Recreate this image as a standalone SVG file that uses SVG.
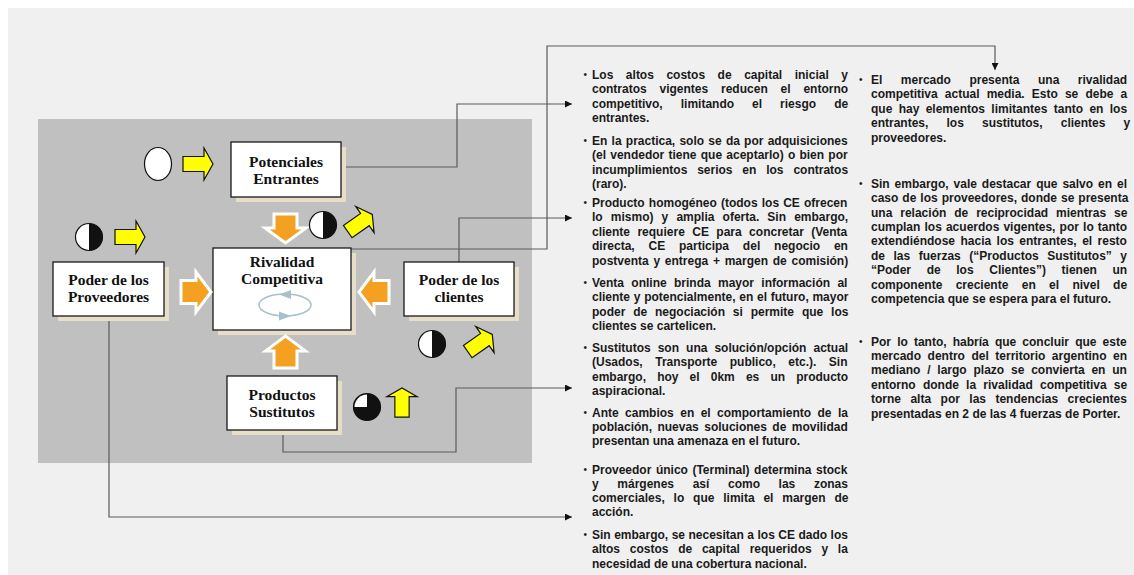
<svg xmlns="http://www.w3.org/2000/svg" width="1134" height="575" viewBox="0 0 1134 575">
<style>
.bx{fill:#fff;stroke:#1a1a1a;stroke-width:1.3}
.sh{fill:#e6dec6}
.bt{font-family:"Liberation Serif","Times New Roman",serif;font-weight:bold;font-size:15.5px;fill:#111;text-anchor:middle}
.tx{font-family:"Liberation Sans",Arial,sans-serif;font-weight:bold;font-size:12px;fill:#1a1a1a}
.bu{font-family:"Liberation Sans",Arial,sans-serif;font-size:10px;fill:#1a1a1a}
.or{fill:#f4a020;stroke:#fff;stroke-width:3;stroke-linejoin:miter}
.ye{fill:#ffff00;stroke:#111;stroke-width:1.2;stroke-linejoin:miter}
.cw{fill:#fff;stroke:#111;stroke-width:1.2}
.cb{fill:#111}
.cn{fill:none;stroke:#5a5a5a;stroke-width:1.2}
</style>
<defs>
<marker id="arr" viewBox="0 0 10 10" refX="10" refY="5" markerWidth="8" markerHeight="7" markerUnits="userSpaceOnUse" orient="auto"><path d="M0,0 L10,5 L0,10 z" fill="#111"/></marker>
<polygon id="yarrow" points="-15,-7.5 6,-7.5 6,-16 15,0 6,16 6,7.5 -15,7.5"/>
</defs>
<rect x="0" y="0" width="1134" height="575" fill="#fff"/>
<rect x="8" y="8" width="1126" height="567" fill="#f0f0f0"/>
<rect x="38" y="119" width="494" height="344" fill="#c0c0c0"/>

<g id="connectors">
<path class="cn" d="M341,167 H457 V104 H572" marker-end="url(#arr)"/>
<path class="cn" d="M351,249 H547 V46 H995 V70" marker-end="url(#arr)"/>
<path class="cn" d="M459,262 V218 H572" marker-end="url(#arr)"/>
<path class="cn" d="M283,430 V452 H456 V388 H572" marker-end="url(#arr)"/>
<path class="cn" d="M109,316 V517 H572" marker-end="url(#arr)"/>
</g>

<g id="node-entrantes">
<rect class="sh" x="236" y="147" width="110" height="55"/>
<rect class="bx" x="231" y="142" width="110" height="55"/>
<text class="bt" x="286" y="167">Potenciales</text>
<text class="bt" x="286" y="184">Entrantes</text>
</g>
<g id="node-proveedores">
<rect class="sh" x="58" y="267" width="111" height="54"/>
<rect class="bx" x="53" y="262" width="111" height="54"/>
<text class="bt" x="108.5" y="285">Poder de los</text>
<text class="bt" x="108.5" y="302">Proveedores</text>
</g>
<g id="node-rivalidad">
<rect class="sh" x="218" y="253" width="138" height="82"/>
<rect class="bx" x="213" y="248" width="138" height="82"/>
<text class="bt" x="282" y="267">Rivalidad</text>
<text class="bt" x="282" y="284">Competitiva</text>
<ellipse cx="285" cy="305" rx="26" ry="11" fill="none" stroke="#a9bfca" stroke-width="1.5"/>
<polygon points="279,294.5 291,290 291,299" fill="#a9bfca"/>
<polygon points="291,316 279,311.5 279,320.5" fill="#a9bfca"/>
</g>
<g id="node-clientes">
<rect class="sh" x="409" y="267" width="110" height="54"/>
<rect class="bx" x="404" y="262" width="110" height="54"/>
<text class="bt" x="459" y="285">Poder de los</text>
<text class="bt" x="459" y="302">clientes</text>
</g>
<g id="node-sustitutos">
<rect class="sh" x="232" y="381" width="110" height="54"/>
<rect class="bx" x="227" y="376" width="110" height="54"/>
<text class="bt" x="282" y="400">Productos</text>
<text class="bt" x="282" y="417">Sustitutos</text>
</g>

<g id="force-arrows">
<polygon class="or" points="274,214 297,214 297,228 306,228 285.5,243 265,228 274,228"/>
<polygon class="or" points="181,280.5 196,280.5 196,272 211,292 196,312 196,303.5 181,303.5"/>
<polygon class="or" points="389,280.5 374,280.5 374,272 359,292 374,312 374,303.5 389,303.5"/>
<polygon class="or" points="274,368 297,368 297,351 305.5,351 285.5,336 265.5,351 274,351"/>
</g>

<g id="indicators">
<ellipse class="cw" cx="158" cy="164" rx="13.5" ry="16.5"/>
<use href="#yarrow" class="ye" transform="translate(198,164)"/>

<circle class="cw" cx="89" cy="237" r="13.5"/>
<path class="cb" d="M89,223.5 A13.5,13.5 0 0 1 89,250.5 Z"/>
<use href="#yarrow" class="ye" transform="translate(130,237)"/>

<circle class="cw" cx="323" cy="225" r="13.5"/>
<path class="cb" d="M323,211.5 A13.5,13.5 0 0 1 323,238.5 Z"/>
<use href="#yarrow" class="ye" transform="translate(360,223) rotate(-35)"/>

<circle class="cw" cx="432" cy="344" r="13.5"/>
<path class="cb" d="M432,330.5 A13.5,13.5 0 0 1 432,357.5 Z"/>
<use href="#yarrow" class="ye" transform="translate(480,343) rotate(-35)"/>

<circle cx="367" cy="407" r="13.5" fill="#111" stroke="#111" stroke-width="1.2"/>
<path d="M367,407 L354.5,407 A12.5,12.5 0 0 1 367,394.5 Z" fill="#fff"/>
<use href="#yarrow" class="ye" transform="translate(402,402.5) rotate(-90) scale(0.97,0.95)"/>
</g>

<g id="notes-left">
<text class="bu" x="583.5" y="78">•</text>
<text class="tx">
<tspan x="592" y="79" style="word-spacing:9.2px">Los altos costos de capital inicial y</tspan>
<tspan x="592" y="93" style="word-spacing:9.5px">contratos vigentes reducen el entorno</tspan>
<tspan x="592" y="108" style="word-spacing:14.7px">competitivo, limitando el riesgo de</tspan>
<tspan x="592" y="122">entrantes.</tspan>
</text>
<text class="bu" x="583.5" y="144">•</text>
<text class="tx">
<tspan x="592" y="145" style="word-spacing:0.9px">En la practica, solo se da por adquisiciones</tspan>
<tspan x="592" y="159" style="word-spacing:0.9px">(el vendedor tiene que aceptarlo) o bien por</tspan>
<tspan x="592" y="174" style="word-spacing:6.5px">incumplimientos serios en los contratos</tspan>
<tspan x="592" y="188">(raro).</tspan>
</text>
<text class="bu" x="583.5" y="206">•</text>
<text class="tx">
<tspan x="592" y="207" style="word-spacing:0.8px">Producto homogéneo (todos los CE ofrecen</tspan>
<tspan x="592" y="221" style="word-spacing:4.8px">lo mismo) y amplia oferta. Sin embargo,</tspan>
<tspan x="592" y="236" style="word-spacing:4.1px">cliente requiere CE para concretar (Venta</tspan>
<tspan x="592" y="250" style="word-spacing:10.5px">directa, CE participa del negocio en</tspan>
<tspan x="592" y="265" style="word-spacing:1.4px">postventa y entrega + margen de comisión)</tspan>
</text>
<text class="bu" x="583.5" y="286">•</text>
<text class="tx">
<tspan x="592" y="287" style="word-spacing:4px">Venta online brinda mayor información al</tspan>
<tspan x="592" y="301" style="word-spacing:0.4px">cliente y potencialmente, en el futuro, mayor</tspan>
<tspan x="592" y="316" style="word-spacing:4.5px">poder de negociación si permite que los</tspan>
<tspan x="592" y="330">clientes se cartelicen.</tspan>
</text>
<text class="bu" x="583.5" y="351">•</text>
<text class="tx">
<tspan x="592" y="352" style="word-spacing:3.7px">Sustitutos son una solución/opción actual</tspan>
<tspan x="592" y="366" style="word-spacing:9.2px">(Usados, Transporte publico, etc.). Sin</tspan>
<tspan x="592" y="381" style="word-spacing:7.8px">embargo, hoy el 0km es un producto</tspan>
<tspan x="592" y="395">aspiracional.</tspan>
</text>
<text class="bu" x="583.5" y="416">•</text>
<text class="tx">
<tspan x="592" y="417" style="word-spacing:3.1px">Ante cambios en el comportamiento de la</tspan>
<tspan x="592" y="431" style="word-spacing:2.1px">población, nuevas soluciones de movilidad</tspan>
<tspan x="592" y="445">presentan una amenaza en el futuro.</tspan>
</text>
<text class="bu" x="583.5" y="473">•</text>
<text class="tx">
<tspan x="592" y="474" style="word-spacing:1.2px">Proveedor único (Terminal) determina stock</tspan>
<tspan x="592" y="488" style="word-spacing:15.3px">y márgenes así como las zonas</tspan>
<tspan x="592" y="502" style="word-spacing:5.5px">comerciales, lo que limita el margen de</tspan>
<tspan x="592" y="516">acción.</tspan>
</text>
<text class="bu" x="583.5" y="538">•</text>
<text class="tx">
<tspan x="592" y="539" style="word-spacing:0.15px">Sin embargo, se necesitan a los CE dado los</tspan>
<tspan x="592" y="553" style="word-spacing:6.4px">altos costos de capital requeridos y la</tspan>
<tspan x="592" y="568">necesidad de una cobertura nacional.</tspan>
</text>
</g>

<g id="notes-right">
<text class="bu" x="859" y="83">•</text>
<text class="tx">
<tspan x="871" y="84" style="word-spacing:15.2px">El mercado presenta una rivalidad</tspan>
<tspan x="871" y="98" style="word-spacing:3.8px">competitiva actual media. Esto se debe a</tspan>
<tspan x="871" y="113" style="word-spacing:3px">que hay elementos limitantes tanto en los</tspan>
<tspan x="871" y="127" style="word-spacing:14.8px">entrantes, los sustitutos, clientes y</tspan>
<tspan x="871" y="142">proveedores.</tspan>
</text>
<text class="bu" x="859" y="187">•</text>
<text class="tx">
<tspan x="871" y="188" style="word-spacing:1.6px">Sin embargo, vale destacar que salvo en el</tspan>
<tspan x="871" y="202" style="word-spacing:0.65px">caso de los proveedores, donde se presenta</tspan>
<tspan x="871" y="217" style="word-spacing:4.6px">una relación de reciprocidad mientras se</tspan>
<tspan x="871" y="231" style="word-spacing:0.8px">cumplan los acuerdos vigentes, por lo tanto</tspan>
<tspan x="871" y="245" style="word-spacing:2.1px">extendiéndose hacia los entrantes, el resto</tspan>
<tspan x="871" y="260" style="word-spacing:5.2px">de las fuerzas (“Productos Sustitutos” y</tspan>
<tspan x="871" y="274" style="word-spacing:12.3px">“Poder de los Clientes”) tienen un</tspan>
<tspan x="871" y="289" style="word-spacing:10px">componente creciente en el nivel de</tspan>
<tspan x="871" y="303">competencia que se espera para el futuro.</tspan>
</text>
<text class="bu" x="859" y="345">•</text>
<text class="tx">
<tspan x="871" y="346" style="word-spacing:2.8px">Por lo tanto, habría que concluir que este</tspan>
<tspan x="871" y="360" style="word-spacing:3.2px">mercado dentro del territorio argentino en</tspan>
<tspan x="871" y="374" style="word-spacing:3.5px">mediano / largo plazo se convierta en un</tspan>
<tspan x="871" y="389" style="word-spacing:3.9px">entorno donde la rivalidad competitiva se</tspan>
<tspan x="871" y="403" style="word-spacing:6.1px">torne alta por las tendencias crecientes</tspan>
<tspan x="871" y="418">presentadas en 2 de las 4 fuerzas de Porter.</tspan>
</text>
</g>
</svg>
